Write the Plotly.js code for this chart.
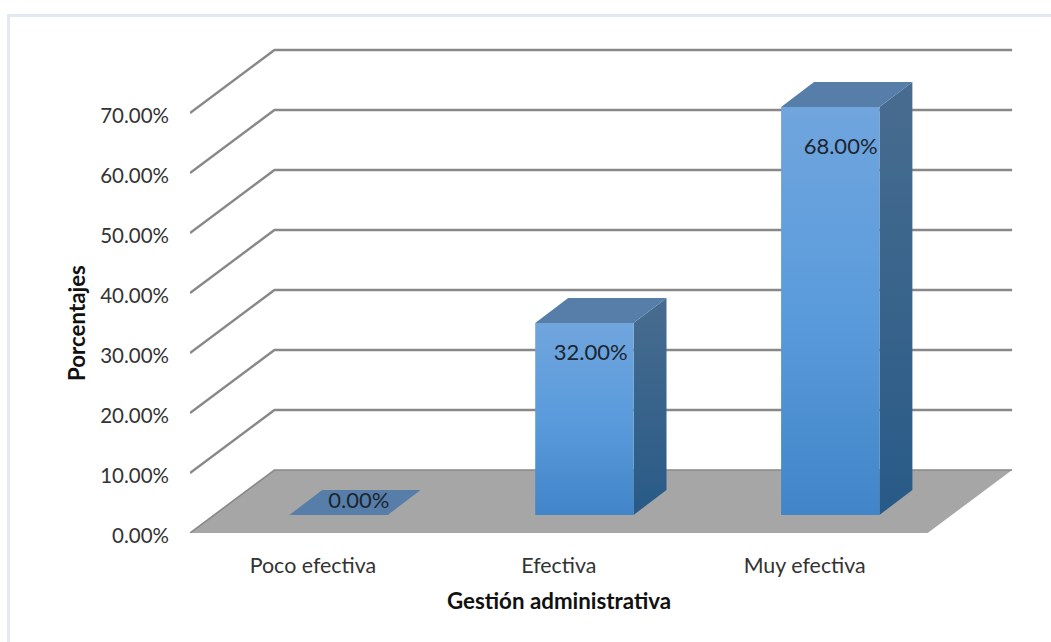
<!DOCTYPE html>
<html><head><meta charset="utf-8">
<script src="https://cdn.plot.ly/plotly-3.0.1.min.js"></script>
<style>
html,body{margin:0;padding:0;background:#fff;overflow:hidden}
#card{position:absolute;left:7px;top:14px;right:0;bottom:0;border-left:3px solid #e4e9f1;border-top:3px solid #e4e9f1;box-sizing:border-box}
#chart{position:absolute;left:0;top:0;width:1051px;height:642px}
</style></head><body>
<div id="card"></div><div id="chart"></div>
<script>
const categories = ["Poco efectiva", "Efectiva", "Muy efectiva"];
const values = [0, 32, 68];
const valueLabels = ["0.00%", "32.00%", "68.00%"];
const yTicks = [0, 10, 20, 30, 40, 50, 60, 70];
const xAxisTitle = "Gestión administrativa";
const yAxisTitle = "Porcentajes";

// pseudo-3D projection, in axis units
const wallDX = 0.3435, wallDY = 10.5;
const barW = 0.4, barShift = 0.104, barLift = 3, barDX = 0.134, barDY = 4.17;
const labelDX = [0.187, 0.13, 0.146], labelDY = [5.03, -2.2, -3.85];

const FONT = "Lato, Carlito, Calibri, sans-serif";
const traces = [];
const poly = (x, y, extra) => traces.push(Object.assign({
  type: "scatter", mode: "lines", x, y, fill: "toself",
  hoverinfo: "skip", showlegend: false, line: {width: 0}
}, extra));

// walls' gridlines
yTicks.slice(1).forEach(t => traces.push({
  type: "scatter", mode: "lines", hoverinfo: "skip", showlegend: false,
  x: [0, wallDX, 3 + wallDX], y: [t, t + wallDY, t + wallDY],
  line: {color: "#8a8787", width: 2.4}
}));
// floor
poly([0, wallDX, 3 + wallDX, 3, 0], [0, wallDY, wallDY, 0, 0], {fillcolor: "#a6a6a6"});
traces.push({type: "scatter", mode: "lines", hoverinfo: "skip", showlegend: false,
  x: [0, wallDX, 3 + wallDX], y: [0, wallDY, wallDY], line: {color: "#8a8787", width: 1.6}});

// bars
values.forEach((v, i) => {
  const x0 = i + 0.5 + barShift - barW / 2, x1 = x0 + barW;
  const b = barLift, t = barLift + v;
  if (v > 0) {
    poly([x1, x1 + barDX, x1 + barDX, x1, x1], [b, b + barDY, t + barDY, t, b], {
      fillgradient: {type: "vertical", colorscale: [[0, "#285a87"], [1, "#486c8f"]]}
    });
    poly([x0, x1, x1, x0, x0], [b, b, t, t, b], {
      fillgradient: {type: "vertical", colorscale: [[0, "#4185c8"], [0.5, "#5a9bdc"], [1, "#70a5dd"]]}
    });
  }
  poly([x0, x1, x1 + barDX, x0 + barDX, x0], [t, t, t + barDY, t + barDY, t], {fillcolor: "#577ea8"});
});

// data labels
traces.push({
  type: "scatter", mode: "text", hoverinfo: "skip", showlegend: false,
  x: values.map((v, i) => i + 0.5 + labelDX[i]),
  y: values.map((v, i) => v + labelDY[i]),
  text: valueLabels, textposition: "middle center",
  textfont: {family: FONT, size: 22, color: "#1c2530"}
});

const layout = {
  width: 1051, height: 642,
  margin: {l: 190, r: 24.6, t: 40, b: 109, pad: 0},
  paper_bgcolor: "rgba(0,0,0,0)", plot_bgcolor: "rgba(0,0,0,0)",
  showlegend: false,
  font: {family: FONT, size: 20, color: "#333333"},
  xaxis: {
    type: "linear", range: [0, 3.4], tickmode: "array",
    tickvals: categories.map((c, i) => i + 0.5), ticktext: categories,
    showgrid: false, zeroline: false, showline: false, ticks: "", ticklabelstandoff: 18,
    tickfont: {family: FONT, size: 21.4, color: "#333333"}
  },
  yaxis: {
    type: "linear", range: [0, 82.17], tickmode: "array", tickvals: yTicks,
    ticktext: yTicks.map(t => t.toFixed(2) + "%"),
    showgrid: false, zeroline: false, showline: false, ticks: "", ticklabelstandoff: 20,
    ticklabelshift: 3,
    tickfont: {family: FONT, size: 20.5, color: "#333333"}
  },
  annotations: [
    {text: "<b>" + xAxisTitle + "</b>", xref: "x", x: 1.5, yref: "paper", y: 0, yshift: -67,
     showarrow: false, xanchor: "center", yanchor: "middle", font: {family: FONT, size: 22.3, color: "#111111"}},
    {text: "<b>" + yAxisTitle + "</b>", xref: "paper", x: 0, xshift: -114, yref: "y", y: 35, textangle: -90,
     showarrow: false, xanchor: "center", yanchor: "middle", font: {family: FONT, size: 22.3, color: "#111111"}}
  ]
};
Plotly.newPlot("chart", traces, layout, {displayModeBar: false, staticPlot: true});
</script>
</body></html>
